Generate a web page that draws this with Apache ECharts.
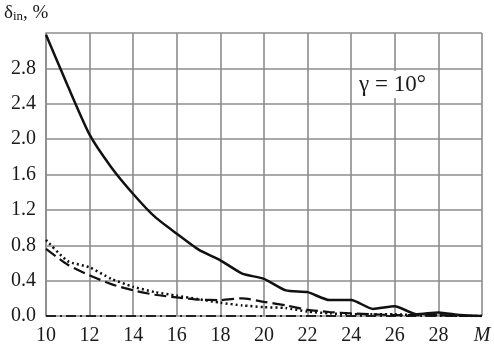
<!DOCTYPE html>
<html><head><meta charset="utf-8">
<script src="https://cdn.jsdelivr.net/npm/echarts@6/dist/echarts.min.js"></script>
<style>html,body{margin:0;padding:0;background:#fff}#c{width:494px;height:353px}</style>
</head><body><div id="c"></div>
<script>
var M = [10,11,12,13,14,15,16,17,18,19,20,21,22,23,24,25,26,27,28,29,30];
var solid  = [3.18,2.60,2.05,1.68,1.38,1.12,0.93,0.75,0.63,0.48,0.42,0.29,0.27,0.18,0.18,0.08,0.11,0.02,0.04,0.01,0.0];
var dotted = [0.86,0.62,0.55,0.42,0.33,0.27,0.23,0.19,0.15,0.12,0.10,0.09,0.05,0.03,0.02,0.02,0.02,0.01,0.01,0.0,0.0];
var dashed = [0.76,0.58,0.46,0.36,0.29,0.24,0.21,0.185,0.18,0.20,0.16,0.12,0.07,0.045,0.03,0.02,0.01,0.01,0.01,0.0,0.0];
var dashdot = [0,0,0,0,0,0,0,0,0,0,0,0,0,0,0,0,0,0,0,0,0];
var yTicks = [0.0,0.4,0.8,1.2,1.6,2.0,2.4,2.8];

function pairs(arr){ return M.map(function(m,i){return [m,arr[i]];}); }
var FONT = 'Liberation Serif, Times New Roman, Times, Tinos, serif';
var chart = echarts.init(document.getElementById('c'));
chart.setOption({
  animation:false,
  backgroundColor:'#fff',
  grid:{left:46,right:12,top:33,bottom:37,containLabel:false},
  xAxis:{type:'value',min:10,max:30,interval:2,
    axisLine:{show:false},axisTick:{show:false},
    splitLine:{show:true,lineStyle:{color:'#8c8c8c',width:1.6}},
    axisLabel:{margin:10,color:'#1a1a1a',fontFamily:FONT,fontSize:20,
      formatter:function(v){return v===30?'{m|M}':String(v);},
      rich:{m:{fontStyle:'italic',fontFamily:FONT,fontSize:20,color:'#1a1a1a'}}}
  },
  yAxis:{type:'value',min:0,max:3.2,interval:0.4,
    axisLine:{show:true,lineStyle:{color:'#8c8c8c',width:1.6}},axisTick:{show:false},
    splitLine:{show:true,lineStyle:{color:'#8c8c8c',width:1.6}},
    axisLabel:{margin:10,color:'#1a1a1a',fontFamily:FONT,fontSize:20,
      formatter:function(v){
        for(var i=0;i<yTicks.length;i++){ if(Math.abs(yTicks[i]-v)<1e-6) return yTicks[i].toFixed(1); }
        return '';
      }}
  },
  graphic:[
    {type:'text',left:4,top:4,style:{
      text:'{d|δ}{s|in}{d|, %}',
      rich:{d:{fontFamily:FONT,fontSize:19,fill:'#1a1a1a'},
            s:{fontFamily:FONT,fontSize:13,fill:'#1a1a1a',verticalAlign:'bottom',padding:[7,0,0,0]}}
    }},
    {type:'text',left:355,top:71,z:10,style:{
      text:'γ = 10°',fontFamily:FONT,fontSize:23,fill:'#1a1a1a',
      backgroundColor:'#fff',padding:[2,4,2,4]
    }}
  ],
  series:[
    {type:'line',data:pairs(dashdot),showSymbol:false,symbol:'none',z:3,
      lineStyle:{color:'#222',width:1.8,type:[10,4,2,4]}},
    {type:'line',data:pairs(dashed),showSymbol:false,symbol:'none',smooth:0.2,
      lineStyle:{color:'#111',width:2.2,type:[12,5]}},
    {type:'line',data:pairs(dotted),showSymbol:false,symbol:'none',smooth:0.2,
      lineStyle:{color:'#111',width:2.5,type:[2,3]}},
    {type:'line',data:pairs(solid),showSymbol:false,symbol:'none',smooth:0.2,
      lineStyle:{color:'#111',width:2.5,type:'solid'}}
  ]
});
</script></body></html>
